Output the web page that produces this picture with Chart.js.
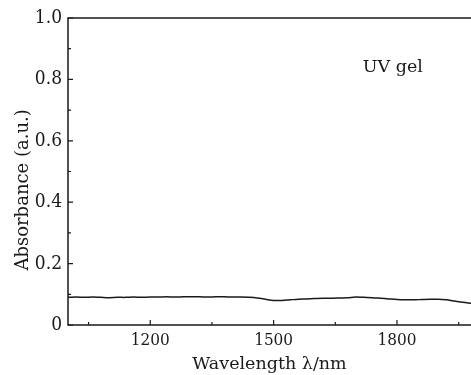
<!DOCTYPE html>
<html>
<head>
<meta charset="utf-8">
<script src="https://cdn.jsdelivr.net/npm/chart.js@4/dist/chart.umd.min.js"></script>
<style>
  html, body { margin: 0; padding: 0; background: #fff; }
  #wrap { width: 471px; height: 375px; }
</style>
</head>
<body>
<div id="wrap"><canvas id="absChart" width="471" height="375"></canvas></div>
<script>
// wavelength (nm) and absorbance
const wavelengths = [1000, 1020, 1040, 1060, 1080, 1100, 1120, 1140, 1160, 1180,
    1200, 1220, 1240, 1260, 1280, 1300, 1320, 1340, 1360, 1380,
    1400, 1420, 1440, 1460, 1480, 1500, 1520, 1540, 1560, 1580,
    1600, 1620, 1640, 1660, 1680, 1700, 1720, 1740, 1760, 1780,
    1800, 1820, 1840, 1860, 1880, 1900, 1920, 1940, 1960, 1980];
const absorbance = [0.090, 0.091, 0.090, 0.091, 0.090, 0.089, 0.090, 0.090, 0.091, 0.090,
    0.091, 0.091, 0.092, 0.091, 0.092, 0.092, 0.092, 0.091, 0.092, 0.092,
    0.091, 0.091, 0.090, 0.088, 0.084, 0.080, 0.080, 0.082, 0.084, 0.085,
    0.086, 0.087, 0.087, 0.088, 0.089, 0.091, 0.090, 0.089, 0.087, 0.085,
    0.083, 0.082, 0.082, 0.083, 0.084, 0.084, 0.082, 0.078, 0.074, 0.071];

const xMajorTicks = [1200, 1500, 1800];
const xMinorTicks = [1050, 1350, 1650, 1950];
const yMajorTicks = [0, 0.2, 0.4, 0.6, 0.8, 1.0];
const yMinorTicks = [0.1, 0.3, 0.5, 0.7, 0.9];

const FONT = "'DejaVu Serif Condensed', 'DejaVu Serif', serif";
const TITLE_FONT = "'DejaVu Serif', serif";
const INK = '#1a1a1a';

// frame + inward ticks + y title + label text
const framePlugin = {
    id: 'frame',
    afterDatasetsDraw(chart) {
        const { ctx, chartArea: a, scales: { x, y } } = chart;
        ctx.save();
        ctx.strokeStyle = INK;
        ctx.lineWidth = 1.5;
        ctx.beginPath();
        ctx.moveTo(a.right + 2, a.top);
        ctx.lineTo(a.left, a.top);
        ctx.lineTo(a.left, a.bottom);
        ctx.lineTo(a.right + 2, a.bottom);
        ctx.stroke();

        ctx.lineWidth = 1.2;
        ctx.beginPath();
        xMajorTicks.forEach(v => {
            const px = x.getPixelForValue(v);
            ctx.moveTo(px, a.bottom); ctx.lineTo(px, a.bottom - 5);
        });
        xMinorTicks.forEach(v => {
            const px = x.getPixelForValue(v);
            ctx.moveTo(px, a.bottom); ctx.lineTo(px, a.bottom - 3);
        });
        yMajorTicks.forEach(v => {
            const py = y.getPixelForValue(v);
            ctx.moveTo(a.left, py); ctx.lineTo(a.left + 5, py);
        });
        yMinorTicks.forEach(v => {
            const py = y.getPixelForValue(v);
            ctx.moveTo(a.left, py); ctx.lineTo(a.left + 3, py);
        });
        ctx.stroke();

        ctx.fillStyle = INK;
        ctx.font = '17.5px ' + TITLE_FONT;
        ctx.textAlign = 'center';
        ctx.textBaseline = 'middle';
        ctx.fillText('UV gel', x.getPixelForValue(1790), y.getPixelForValue(0.84));

        // y axis title, sits a bit low like the original
        ctx.font = '18px ' + TITLE_FONT;
        ctx.translate(23, y.getPixelForValue(0.44));
        ctx.rotate(-Math.PI / 2);
        ctx.fillText('Absorbance (a.u.)', 0, 0);
        ctx.restore();
    }
};

const chart = new Chart(document.getElementById('absChart').getContext('2d'), {
    type: 'line',
    data: {
        datasets: [{
            label: 'UV gel',
            data: wavelengths.map((w, i) => ({ x: w, y: absorbance[i] })),
            borderColor: INK,
            borderWidth: 1.5,
            pointRadius: 0,
            tension: 0.3,
            fill: false
        }]
    },
    options: {
        responsive: false,
        animation: false,
        layout: { padding: { top: 18, right: 0, left: 0, bottom: 0 } },
        plugins: {
            legend: { display: false },
            tooltip: { enabled: false }
        },
        scales: {
            x: {
                type: 'linear',
                min: 1000,
                max: 1980,
                afterBuildTicks: s => { s.ticks = xMajorTicks.map(v => ({ value: v })); },
                afterFit: s => { s.height = 50; },
                grid: { display: false, drawTicks: false },
                border: { display: false },
                ticks: {
                    color: INK,
                    padding: 5,
                    maxRotation: 0,
                    font: { family: FONT, size: 17 },
                    callback: v => String(v)
                },
                title: {
                    display: true,
                    text: 'Wavelength λ/nm',
                    color: INK,
                    padding: { top: -6, bottom: 0 },
                    font: { family: TITLE_FONT, size: 17.5 }
                }
            },
            y: {
                min: 0,
                max: 1.0,
                afterBuildTicks: s => { s.ticks = yMajorTicks.map(v => ({ value: v })); },
                afterFit: s => { s.width = 68; },
                grid: { display: false, drawTicks: false },
                border: { display: false },
                ticks: {
                    color: INK,
                    padding: 6,
                    font: { family: FONT, size: 19 },
                    callback: v => (v === 0 ? '0' : v.toFixed(1))
                },
                title: { display: false }
            }
        }
    },
    plugins: [framePlugin]
});
</script>
</body>
</html>
